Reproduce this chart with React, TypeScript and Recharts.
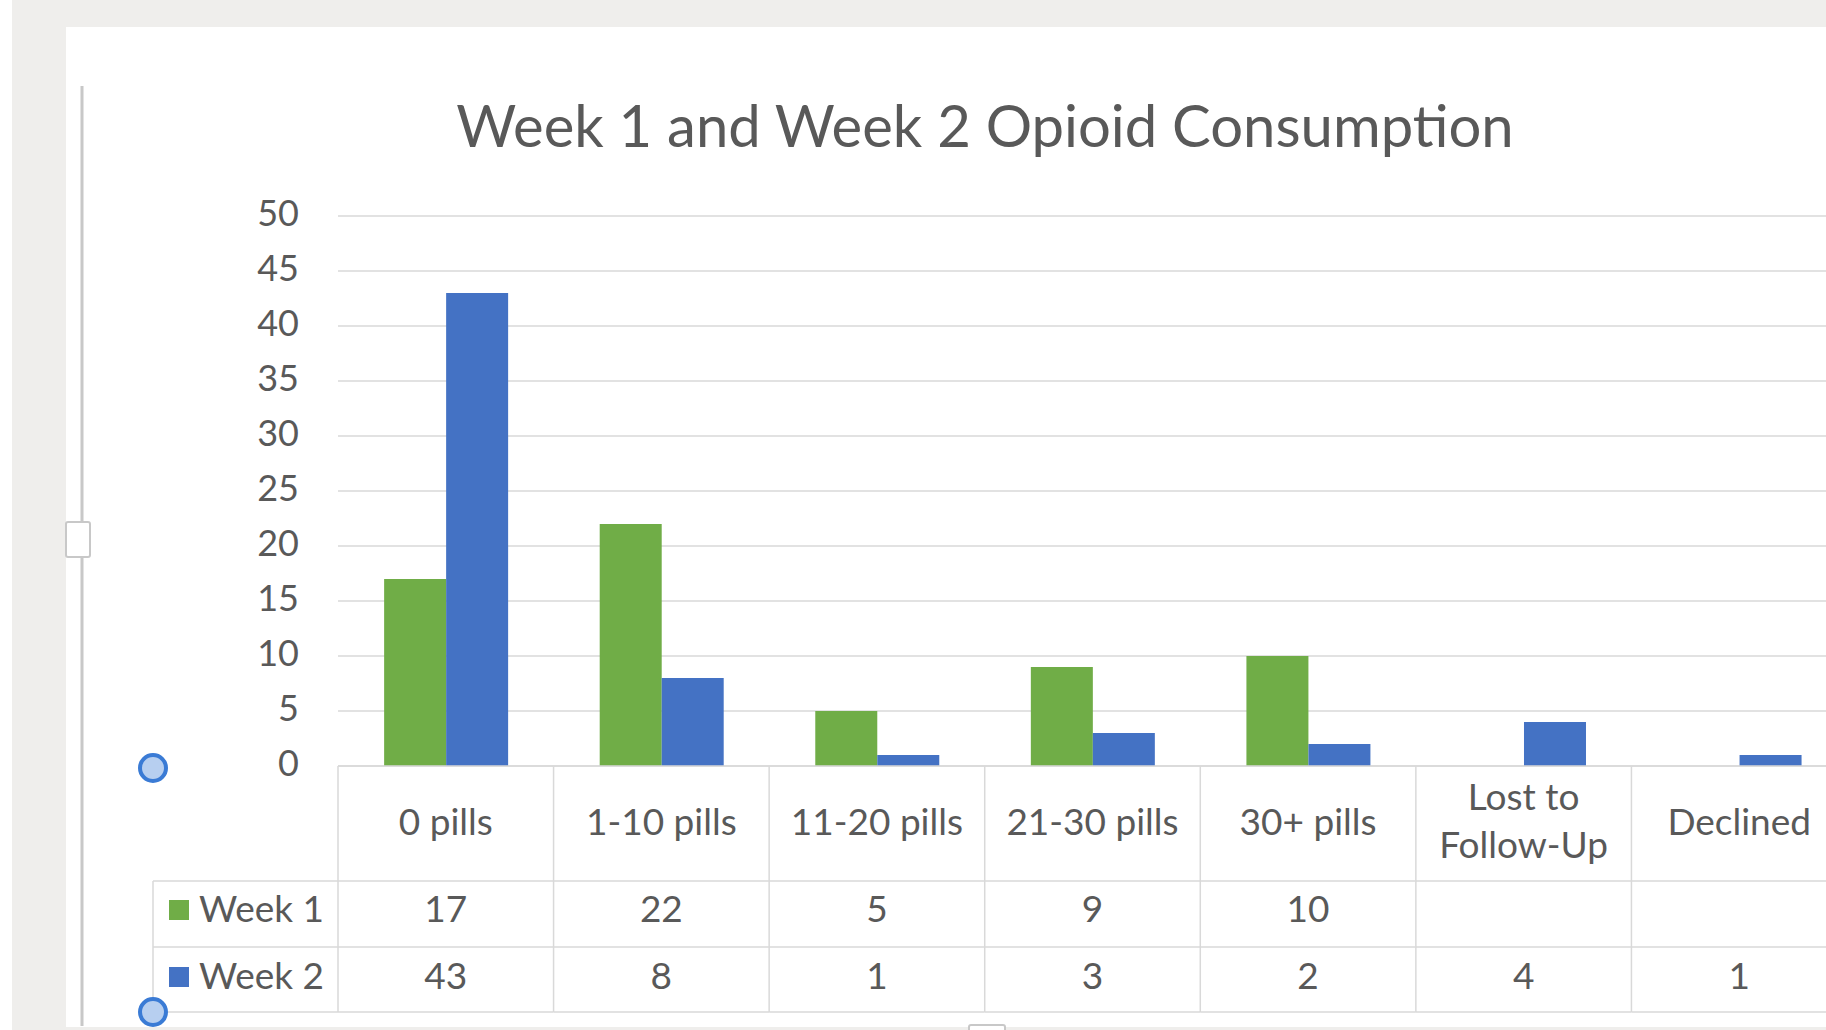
import { BarChart, Bar, XAxis, YAxis, CartesianGrid } from "recharts";

const categories = ["0 pills", "1-10 pills", "11-20 pills", "21-30 pills", "30+ pills", "Lost to\nFollow-Up", "Declined"];
const week1 = [17, 22, 5, 9, 10, null, null];
const week2 = [43, 8, 1, 3, 2, 4, 1];
const yTicks = [0, 5, 10, 15, 20, 25, 30, 35, 40, 45, 50];
const seriesNames = ["Week 1", "Week 2"];

const data = categories.map((c, i) => ({ cat: c, week1: week1[i], week2: week2[i] }));

const FONT = "Lato, 'Open Sans', sans-serif";
const TEXT = "#595959";
const GRID = "#d9d9d9";
const GREEN = "#70AD47";
const BLUE = "#4472C4";

// layout (px in the 1826x1030 page)
const CHART_W = 1847;
const PLOT_LEFT = 338;
const PLOT_TOP = 216;
const PLOT_BOTTOM = 766;
const AXIS_H = 250;
const CELL = (CHART_W - PLOT_LEFT) / categories.length;
const ROW1 = 115; // bottom of category row
const ROW2 = 181; // bottom of week 1 row
const ROW3 = 246; // bottom of week 2 row
const LEG_X = 153;

const TableTick = (props: any) => {
  const { x, y, payload } = props;
  const i = payload.index;
  const half = CELL / 2;
  const lines = String(payload.value).split("\n");
  const v1 = week1[i];
  const v2 = week2[i];
  const txt = { fontFamily: FONT, fontSize: 37, fill: TEXT, textAnchor: "middle" as const };
  return (
    <g>
      <line x1={x - half} x2={x - half} y1={y} y2={y + ROW3} stroke={GRID} strokeWidth={1.5} />
      {i === categories.length - 1 && (
        <line x1={x + half} x2={x + half} y1={y} y2={y + ROW3} stroke={GRID} strokeWidth={1.5} />
      )}
      {[ROW1, ROW2, ROW3].map((r) => (
        <line key={r} x1={x - half} x2={x + half} y1={y + r} y2={y + r} stroke={GRID} strokeWidth={1.5} />
      ))}
      {lines.map((l, k) => (
        <text key={k} x={x} y={y + (lines.length === 1 ? 56 : 31 + k * 48)} dy="0.35em" {...txt}>
          {l}
        </text>
      ))}
      {v1 != null && (
        <text x={x} y={y + 143} dy="0.35em" {...txt}>{v1}</text>
      )}
      {v2 != null && (
        <text x={x} y={y + 210} dy="0.35em" {...txt}>{v2}</text>
      )}
      {i === 0 && (
        <g>
          <line x1={LEG_X} x2={x - half} y1={y + ROW1} y2={y + ROW1} stroke={GRID} strokeWidth={1.5} />
          <line x1={LEG_X} x2={x - half} y1={y + ROW2} y2={y + ROW2} stroke={GRID} strokeWidth={1.5} />
          <line x1={LEG_X} x2={x - half} y1={y + ROW3} y2={y + ROW3} stroke={GRID} strokeWidth={1.5} />
          <line x1={LEG_X} x2={LEG_X} y1={y + ROW1} y2={y + ROW3} stroke={GRID} strokeWidth={1.5} />
          {seriesNames.map((n, k) => {
            const cy = y + (k === 0 ? 143 : 210);
            return (
              <g key={n}>
                <rect x={LEG_X + 16} y={cy - 9} width={20} height={20} fill={k === 0 ? GREEN : BLUE} />
                <text x={LEG_X + 46} y={cy} dy="0.35em" fontFamily={FONT} fontSize={37} fill={TEXT}>
                  {n}
                </text>
              </g>
            );
          })}
        </g>
      )}
    </g>
  );
};

export default function App() {
  return (
    <div
      style={{
        position: "absolute",
        left: 0,
        top: 0,
        width: 1826,
        height: 1030,
        overflow: "hidden",
        background: "#efeeec",
      }}
    >
      <div style={{ position: "absolute", left: 0, top: 0, width: 12, height: 1030, background: "#fff" }} />
      <div style={{ position: "absolute", left: 66, top: 27, width: 1760, height: 1000, background: "#fff" }} />
      <div
        style={{
          position: "absolute",
          left: 0,
          top: 92,
          width: 1970,
          textAlign: "center",
          fontFamily: FONT,
          fontSize: 58,
          color: TEXT,
          lineHeight: "66px",
        }}
      >
        Week 1 and Week 2 Opioid Consumption
      </div>
      <div style={{ position: "absolute", left: 0, top: 0 }}>
        <BarChart
          width={CHART_W}
          height={PLOT_BOTTOM + AXIS_H}
          data={data}
          margin={{ top: PLOT_TOP, right: 0, bottom: 0, left: 0 }}
          barGap={0}
          barCategoryGap="21.4%"
        >
          <CartesianGrid vertical={false} stroke={GRID} strokeWidth={1.5} />
          <XAxis
            dataKey="cat"
            height={AXIS_H}
            axisLine={{ stroke: GRID, strokeWidth: 1.5 }}
            tickLine={false}
            tickSize={0}
            tickMargin={0}
            interval={0}
            tick={<TableTick />}
          />
          <YAxis
            width={PLOT_LEFT}
            domain={[0, 50]}
            ticks={yTicks}
            axisLine={false}
            tickLine={false}
            tickSize={0}
            tickMargin={39}
            tick={{ fontFamily: FONT, fontSize: 36, fill: TEXT, dy: -3 }}
          />
          <Bar dataKey="week1" name="Week 1" fill={GREEN} isAnimationActive={false} />
          <Bar dataKey="week2" name="Week 2" fill={BLUE} isAnimationActive={false} />
        </BarChart>
      </div>
      <svg style={{ position: "absolute", left: 0, top: 0 }} width={1826} height={1030}>
        <line x1={82} x2={82} y1={86} y2={1026} stroke="#c8c8c8" strokeWidth={3} />
        <rect x={66} y={522} width={24} height={35} fill="#fff" stroke="#c8c8c8" strokeWidth={2} rx={2} />
        <rect x={969} y={1025} width={36} height={8} fill="#fff" stroke="#c8c8c8" strokeWidth={2} rx={2} />
        <circle cx={153} cy={768} r={13} fill="#b7cff0" stroke="#3a7bd5" strokeWidth={4} />
        <circle cx={153} cy={1012} r={13} fill="#b7cff0" stroke="#3a7bd5" strokeWidth={4} />
      </svg>
    </div>
  );
}
